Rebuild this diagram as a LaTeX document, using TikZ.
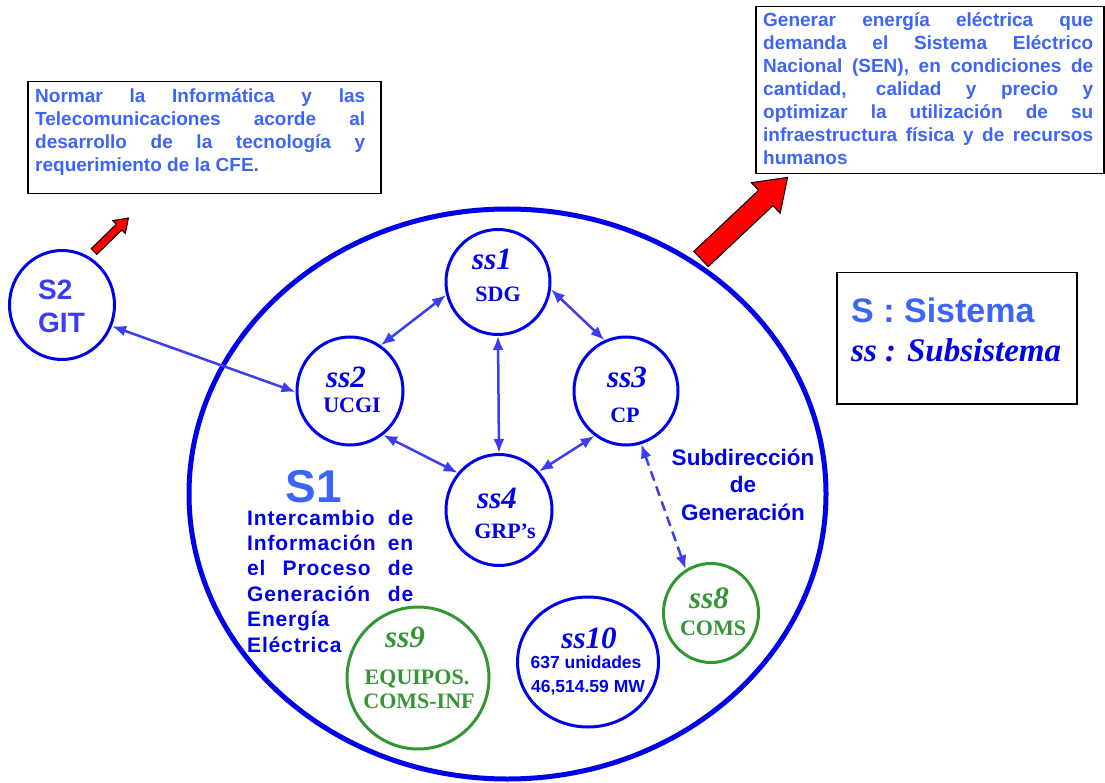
\documentclass[tikz,border=0pt]{standalone}
\usepackage{fontspec}
\setmainfont{Liberation Sans}
\newfontfamily\serifb{Liberation Serif}
\usetikzlibrary{arrows.meta,shapes.geometric}

\definecolor{softblue}{RGB}{60,100,250}
\definecolor{deepblue}{RGB}{0,0,235}
\definecolor{linkblue}{RGB}{60,60,240}
\definecolor{leafgreen}{RGB}{51,150,51}

% one line of a justified block, spread to the full width
\newcommand\jline[1]{\makebox[\linewidth][s]{#1}\\}

\tikzset{
  sub/.style={ellipse, draw=deepblue, line width=3pt, inner sep=0pt},
  subg/.style={sub, draw=leafgreen},
  link/.style={draw=linkblue, line width=2.5pt,
    {Latex[length=14pt,width=11pt]}-{Latex[length=14pt,width=11pt]}},
  sslab/.style={anchor=base, text=deepblue, inner sep=0pt,
    font=\fontsize{31}{31}\selectfont\serifb\bfseries\itshape},
  acr/.style={anchor=base, text=deepblue, inner sep=0pt,
    font=\fontsize{22}{22}\selectfont\serifb\bfseries},
  frame/.style={draw=black, line width=1.5pt, inner sep=0pt, anchor=north west},
  boxtext/.style={anchor=base west, inner sep=0pt, text=softblue,
    font=\fontsize{19}{23}\selectfont\bfseries},
  redarrow/.style={fill=red, draw=black, line width=1pt, line join=miter}
}

\begin{document}
\begin{tikzpicture}[x=1pt, y=-1pt]
\useasboundingbox (0,0) rectangle (1105,783);

% ---- goal boxes and legend ----
\node[frame, minimum width=353pt, minimum height=112pt] (gitgoal) at (27,81) {};
\node[boxtext] (gitgoaltext) at (35,103) {\parbox[t]{330pt}{%
  \jline{Normar la Informática y las}
  \jline{Telecomunicaciones acorde al}
  \jline{desarrollo de la tecnología y}
  requerimiento de la CFE.}};

\node[frame, minimum width=348pt, minimum height=167pt] (gengoal) at (755,6) {};
\node[boxtext] (gengoaltext) at (763,27) {\parbox[t]{330pt}{%
  \jline{Generar energía eléctrica que}
  \jline{demanda el Sistema Eléctrico}
  \jline{Nacional (SEN), en condiciones de}
  \jline{cantidad, calidad y precio y}
  \jline{optimizar la utilización de su}
  \jline{infraestructura física y de recursos}
  humanos}};

\node[frame, minimum width=240pt, minimum height=131pt] (legend) at (836,272) {};
\node[anchor=base west, inner sep=0pt, text=softblue,
  font=\fontsize{34}{34}\selectfont\bfseries] (legs) at (851,323) {S : Sistema};
\node[anchor=base west, inner sep=0pt, text=deepblue,
  font=\fontsize{33}{33}\selectfont\serifb\bfseries\itshape] (legss) at (851,362) {ss : Subsistema};

% ---- system S1 ----
\node[ellipse, draw=deepblue, line width=5pt, inner sep=0pt,
  minimum width=637pt, minimum height=570pt] (s1) at (507.5,494) {};
\node[anchor=base, inner sep=0pt, text=softblue,
  font=\fontsize{46}{46}\selectfont\bfseries] (s1name) at (314,502) {S1};
\node[anchor=base west, inner sep=0pt, text=deepblue,
  font=\fontsize{21}{25.4}\selectfont\bfseries\addfontfeature{LetterSpace=4}] (s1text) at (247,525) {\parbox[t]{166pt}{%
  \jline{Intercambio de}
  \jline{Información en}
  \jline{el Proceso de}
  \jline{Generación de}
  Energía\\
  Eléctrica}};
\node[anchor=base, inner sep=0pt, text=deepblue,
  font=\fontsize{22.5}{27.5}\selectfont\bfseries] (sdgen) at (743,465) {\parbox[t]{200pt}{\centering
  Subdirección\\ de\\ Generación}};

% ---- system S2 ----
\node[sub, minimum width=105pt, minimum height=109pt] (git) at (62,305) {};
\node[anchor=base west, inner sep=0pt, text=linkblue,
  font=\fontsize{28}{33}\selectfont\bfseries] (gittext) at (38,300) {\parbox[t]{60pt}{S2\\ GIT}};

% ---- subsystems ----
\node[sub, minimum width=104pt, minimum height=105pt] (ss1) at (498,282) {};
\node[sslab] at (492,270) {ss1};
\node[acr] at (498,302) {SDG};

\node[sub, minimum width=106pt, minimum height=108pt] (ss2) at (350,391) {};
\node[sslab] at (346,387) {ss2};
\node[acr] at (352,412) {UCGI};

\node[sub, minimum width=104pt, minimum height=108pt] (ss3) at (626,391) {};
\node[sslab] at (627,387) {ss3};
\node[acr] at (625,422) {CP};

\node[sub, minimum width=106pt, minimum height=111pt] (ss4) at (499,510) {};
\node[sslab] at (497,508) {ss4};
\node[acr] at (505,538) {GRP’s};

\node[subg, minimum width=95pt, minimum height=99pt] (ss8) at (711,613) {};
\node[sslab, text=leafgreen] at (709,608) {ss8};
\node[acr, text=leafgreen] at (713,635) {COMS};

\node[subg, minimum width=142pt, minimum height=142pt] (ss9) at (418,678) {};
\node[sslab, text=leafgreen] at (405,647) {ss9};
\node[acr, text=leafgreen] at (417,684) {EQUIPOS.};
\node[acr, text=leafgreen] at (419,708) {COMS-INF};

\node[sub, minimum width=141pt, minimum height=130pt] (ss10) at (588,662) {};
\node[sslab] at (589,648) {ss10};
\node[anchor=base, inner sep=0pt, text=deepblue,
  font=\fontsize{17.5}{17.5}\selectfont\bfseries] at (586,668) {637 unidades};
\node[anchor=base, inner sep=0pt, text=deepblue,
  font=\fontsize{17.5}{17.5}\selectfont\bfseries] at (588,692) {46,514.59 MW};

% ---- links between subsystems ----
\draw[link] (ss2.56) -- (ss1.194);
\draw[link] (ss1.-8) -- (ss3.113);
\draw[link] (ss1.south) -- (ss4.north);
\draw[link] (ss2.-53) -- (ss4.138);
\draw[link] (ss3.235) -- (ss4.44);
\draw[link] (git.-23) -- (ss2.181);
\draw[link, dash pattern=on 10pt off 6pt] (ss3.-74) -- (ss8.120);

% ---- red block arrows towards the goals ----
\begin{scope}[shift={(94,251.5)}, rotate=44.2]
  \draw[redarrow] (0,-4) -- (35,-4) -- (35,-9) -- (48,0) -- (35,9) -- (35,4) -- (0,4) -- cycle;
\end{scope}
\begin{scope}[shift={(701,259)}, rotate=43.3]
  \draw[redarrow] (0,-10.5) -- (89,-10.5) -- (89,-21) -- (119,0) -- (89,21) -- (89,10.5) -- (0,10.5) -- cycle;
\end{scope}
\end{tikzpicture}
\end{document}
